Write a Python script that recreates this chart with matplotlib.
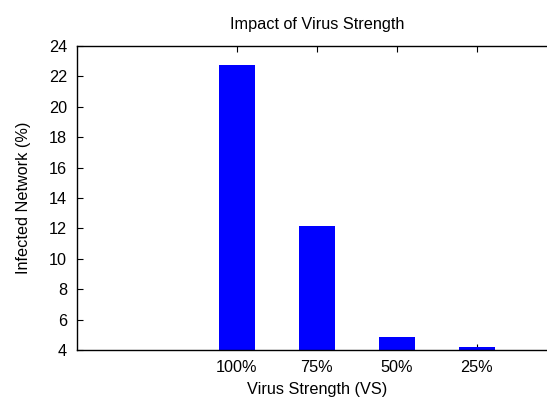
import matplotlib
matplotlib.use("Agg")
import matplotlib.pyplot as plt
import numpy as np

categories = ["100%", "75%", "50%", "25%"]
infected = [22.75, 12.18, 4.86, 4.18]
yticks = [4, 6, 8, 10, 12, 14, 16, 18, 20, 22, 24]

plt.rcParams['font.family'] = ['Liberation Sans', 'DejaVu Sans']

fs = 11.7
fig = plt.figure(figsize=(5.47, 3.99), dpi=100)
ax = fig.add_axes([76.7/547, 49/399, 480/547, 304/399])

x = np.arange(len(categories))
ax.bar(x, infected, width=0.45, color='#0000ff', bottom=0, zorder=2)

ax.set_xlim(-2, 4)
ax.set_ylim(4, 24)
ax.set_xticks(x)
ax.set_xticklabels(categories)
ax.set_yticks(yticks)
ax.set_yticklabels([str(t) for t in yticks])

ax.tick_params(axis='both', direction='in', length=4, width=0.8, labelsize=fs,
               colors='#000000', top=True, right=True)
ax.tick_params(axis='x', pad=7.5)
ax.tick_params(axis='y', pad=7)
for s in ax.spines.values():
    s.set_linewidth(1.0)
    s.set_zorder(3)

ax.set_title("Impact of Virus Strength", fontsize=fs, pad=12.5)
ax.set_xlabel("Virus Strength (VS)", fontsize=fs, labelpad=4.5)
ax.set_ylabel("Infected Network (%)", fontsize=fs, labelpad=13)

fig.savefig("out.png", dpi=100)
